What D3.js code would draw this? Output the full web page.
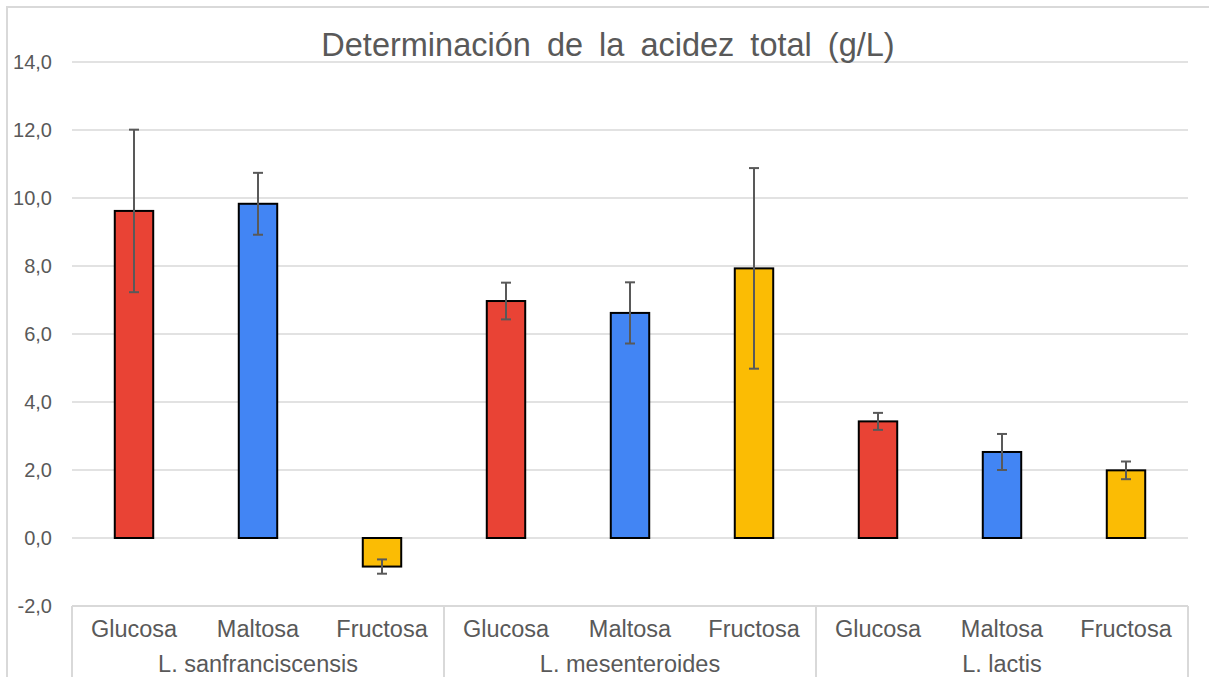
<!DOCTYPE html>
<html>
<head>
<meta charset="utf-8">
<script src="https://cdn.jsdelivr.net/npm/d3@7"></script>
<style>
  html, body { margin: 0; padding: 0; background: #fff; }
  svg { display: block; font-family: "Liberation Sans", Arial, sans-serif; }
</style>
</head>
<body>
<svg id="chart" width="1209" height="677"></svg>
<script>
const title = "Determinación de la acidez total (g/L)";
const groups = ["L. sanfranciscensis", "L. mesenteroides", "L. lactis"];
const sugars = ["Glucosa", "Maltosa", "Fructosa"];
const sugarColors = ["#E94335", "#4285F4", "#FBBC04"];
// values per group, in sugar order
const sanfranciscensis = [9.62, 9.83, -0.84];
const mesenteroides = [6.97, 6.62, 7.93];
const lactis = [3.43, 2.53, 1.99];
// error (± standard deviation)
const errSanfranciscensis = [2.39, 0.91, 0.21];
const errMesenteroides = [0.54, 0.90, 2.95];
const errLactis = [0.25, 0.53, 0.26];
const yTicks = [-2, 0, 2, 4, 6, 8, 10, 12, 14];

(function () {
const values = [sanfranciscensis, mesenteroides, lactis];
const errors = [errSanfranciscensis, errMesenteroides, errLactis];
const data = [];
groups.forEach((g, gi) => sugars.forEach((s, si) => {
  data.push({ key: gi + "-" + si, group: g, gi, sugar: s, si, value: values[gi][si], err: errors[gi][si] });
}));

const svg = d3.select("#chart");
const W = 1209, H = 677;
const pLeft = 72, pRight = 1188, pTop = 62, pBottom = 606;

// outer chart border
svg.append("path")
  .attr("d", `M7,${H + 2} V7 H${W + 2}`)
  .attr("fill", "none").attr("stroke", "#d9d9d9").attr("stroke-width", 2);

const y = d3.scaleLinear().domain([-2, 14]).range([pBottom, pTop]);
const x = d3.scaleBand().domain(data.map(d => d.key)).range([pLeft, pRight])
  .paddingInner(0.69).paddingOuter(0.345);
const xOuter = d3.scaleBand().domain(data.map(d => d.key)).range([pLeft, pRight]);
const xGroup = d3.scaleBand().domain(groups).range([pLeft, pRight]);

// gridlines
svg.append("g").selectAll("line").data(yTicks.filter(t => t !== -2)).join("line")
  .attr("x1", pLeft).attr("x2", pRight)
  .attr("y1", d => y(d)).attr("y2", d => y(d))
  .attr("stroke", "#d9d9d9").attr("stroke-width", 1.5);

// y axis labels
const yAxis = d3.axisLeft(y).tickValues(yTicks).tickSize(0).tickPadding(20)
  .tickFormat(d => d.toFixed(1).replace(".", ","));
const yg = svg.append("g").attr("transform", `translate(${pLeft},0)`).call(yAxis);
yg.select(".domain").remove();
yg.selectAll("text").attr("fill", "#595959").style("font-size", "20px")
  .style("font-family", "'Liberation Sans', Arial, sans-serif");

// category axis box
const axisG = svg.append("g");
axisG.append("line").attr("x1", pLeft).attr("x2", pRight).attr("y1", pBottom).attr("y2", pBottom)
  .attr("stroke", "#d9d9d9").attr("stroke-width", 2);
const seps = groups.map(g => xGroup(g)).concat([pRight]);
axisG.selectAll("line.sep").data(seps).join("line").attr("class", "sep")
  .attr("x1", d => d).attr("x2", d => d).attr("y1", pBottom).attr("y2", H + 2)
  .attr("stroke", "#d9d9d9").attr("stroke-width", 2);

axisG.selectAll("text.cat").data(data).join("text").attr("class", "cat")
  .attr("x", d => xOuter(d.key) + xOuter.bandwidth() / 2).attr("y", 637)
  .attr("text-anchor", "middle").attr("fill", "#595959").style("font-size", "23.5px")
  .text(d => d.sugar);
axisG.selectAll("text.grp").data(groups).join("text").attr("class", "grp")
  .attr("x", d => xGroup(d) + xGroup.bandwidth() / 2).attr("y", 672)
  .attr("text-anchor", "middle").attr("fill", "#595959").style("font-size", "23.5px")
  .text(d => d);

// bars
svg.append("g").selectAll("rect").data(data).join("rect")
  .attr("x", d => x(d.key))
  .attr("y", d => y(Math.max(0, d.value)))
  .attr("width", x.bandwidth())
  .attr("height", d => Math.abs(y(d.value) - y(0)))
  .attr("fill", d => sugarColors[d.si])
  .attr("stroke", "#000").attr("stroke-width", 2);

// error bars
const eg = svg.append("g").attr("stroke", "#595959").attr("stroke-width", 2);
const cx = d => x(d.key) + x.bandwidth() / 2;
eg.selectAll("line.v").data(data).join("line").attr("class", "v")
  .attr("x1", cx).attr("x2", cx)
  .attr("y1", d => y(d.value + d.err)).attr("y2", d => y(d.value - d.err));
eg.selectAll("line.t").data(data).join("line").attr("class", "t")
  .attr("x1", d => cx(d) - 5).attr("x2", d => cx(d) + 5)
  .attr("y1", d => y(d.value + d.err)).attr("y2", d => y(d.value + d.err));
eg.selectAll("line.b").data(data).join("line").attr("class", "b")
  .attr("x1", d => cx(d) - 5).attr("x2", d => cx(d) + 5)
  .attr("y1", d => y(d.value - d.err)).attr("y2", d => y(d.value - d.err));

// title
svg.append("text").attr("x", 608).attr("y", 56).attr("text-anchor", "middle")
  .attr("fill", "#595959").style("font-size", "32.5px").style("word-spacing", "7px")
  .text(title);
})();
</script>
</body>
</html>
